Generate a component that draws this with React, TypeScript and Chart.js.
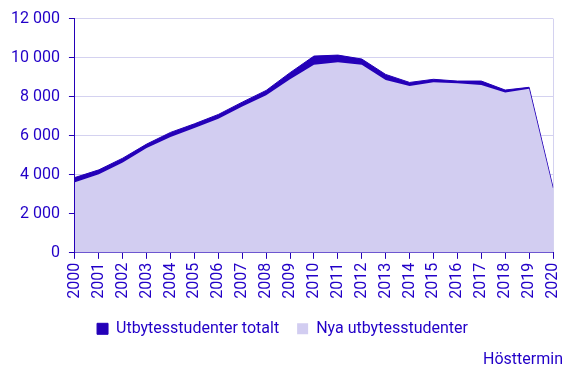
import React, { useEffect, useRef } from "react";
import { Chart, registerables } from "chart.js";

Chart.register(...registerables);

const years = ["2000","2001","2002","2003","2004","2005","2006","2007","2008","2009","2010","2011","2012","2013","2014","2015","2016","2017","2018","2019","2020"];
const totalt = [3860,4250,4850,5570,6170,6610,7090,7720,8320,9230,10080,10130,9930,9140,8730,8890,8800,8800,8340,8480,3350];
const nya = [3620,4030,4630,5370,5930,6390,6870,7500,8070,8890,9630,9760,9630,8860,8550,8740,8690,8600,8210,8400,3300];
const yTicks = [0,2000,4000,6000,8000,10000,12000];

const DARK = "#2400b8";
const LIGHT = "#d2cdf1";
const TEXT = "#2200c8";
const GRID = "#d4d2f0";
const FONT = { family: "Roboto", size: 16 };

function fmt(v: number) {
  return String(v).replace(/\B(?=(\d{3})+(?!\d))/g, " ");
}

export default function App() {
  const ref = useRef<HTMLCanvasElement | null>(null);
  useEffect(() => {
    document.body.style.margin = "0";
    const chart = new Chart(ref.current!, {
      type: "line",
      data: {
        labels: years,
        datasets: [
          {
            label: "Utbytesstudenter totalt",
            data: totalt,
            backgroundColor: DARK,
            borderColor: DARK,
            borderWidth: 1,
            pointRadius: 0,
            fill: "origin",
            tension: 0,
            order: 1,
          },
          {
            label: "Nya utbytesstudenter",
            data: nya,
            backgroundColor: LIGHT,
            borderColor: LIGHT,
            borderWidth: 0,
            pointRadius: 0,
            fill: "origin",
            tension: 0,
            order: 0,
          },
        ],
      },
      options: {
        animation: false,
        responsive: false,
        maintainAspectRatio: false,
        layout: { padding: { top: 7, right: 5, left: 2, bottom: 8 } },
        plugins: {
          tooltip: { enabled: false },
          legend: {
            position: "bottom",
            labels: {
              color: TEXT,
              font: FONT,
              boxWidth: 11,
              boxHeight: 11,
              padding: 18,
              sort: (a: any, b: any) => a.datasetIndex - b.datasetIndex,
            },
          },
          title: {
            display: true,
            text: "Hösttermin",
            position: "bottom",
            align: "end",
            color: TEXT,
            font: { family: "Roboto", size: 16, weight: "normal" },
            padding: { top: 4, bottom: 0 },
          },
        },
        scales: {
          x: {
            offset: false,
            afterFit: (s: any) => {
              s.paddingRight = 15;
            },
            grid: {
              color: (ctx: any) => (ctx.index === years.length - 1 ? GRID : "rgba(0,0,0,0)"),
              tickColor: DARK,
              tickLength: 6,
            },
            border: { color: DARK, width: 1 },
            ticks: {
              color: TEXT,
              font: FONT,
              maxRotation: 90,
              minRotation: 90,
              autoSkip: false,
              padding: 4,
            },
          },
          y: {
            min: 0,
            max: 12000,
            afterBuildTicks: (axis: any) => {
              axis.ticks = yTicks.map((v) => ({ value: v }));
            },
            grid: {
              color: GRID,
              tickColor: DARK,
              tickLength: 6,
            },
            border: { color: DARK, width: 1 },
            ticks: {
              color: TEXT,
              font: FONT,
              padding: 9,
              callback: (v: any) => fmt(Number(v)),
            },
          },
        },
      },
    } as any);
    return () => chart.destroy();
  }, []);
  return (
    <div style={{ width: 568, height: 378 }}>
      <canvas ref={ref} width={568} height={378} style={{ display: "block" }} />
    </div>
  );
}
